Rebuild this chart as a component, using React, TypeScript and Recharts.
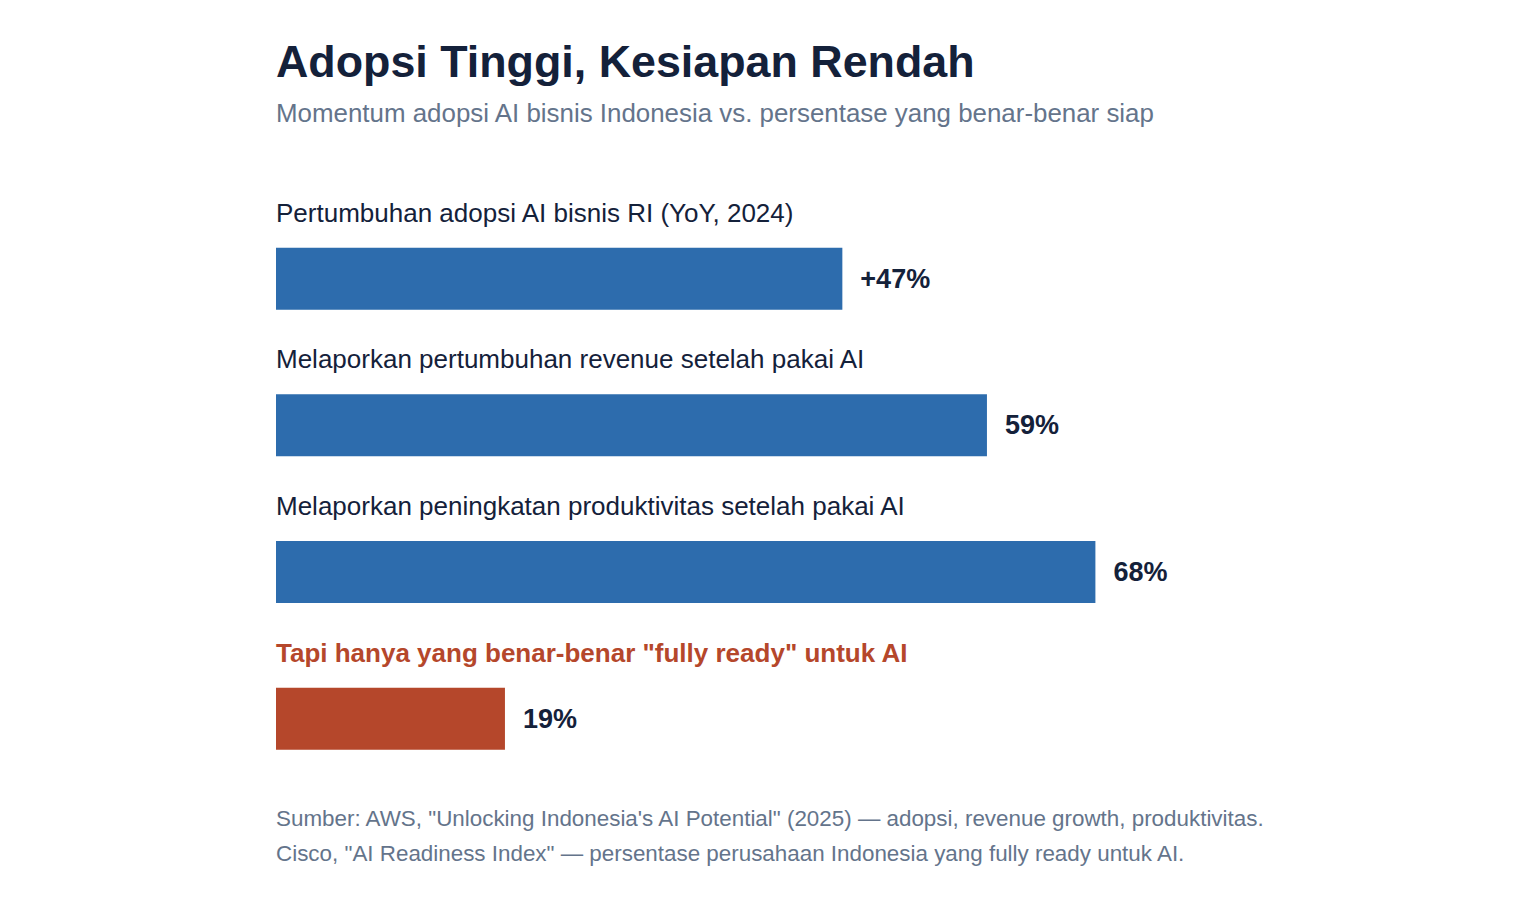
import React from 'react';
import { BarChart, Bar, XAxis, YAxis, Cell, LabelList } from 'recharts';

const categories = [
  'Pertumbuhan adopsi AI bisnis RI (YoY, 2024)',
  'Melaporkan pertumbuhan revenue setelah pakai AI',
  'Melaporkan peningkatan produktivitas setelah pakai AI',
  'Tapi hanya yang benar-benar "fully ready" untuk AI',
];
const values = [47, 59, 68, 19];
const valueLabels = ['+47%', '59%', '68%', '19%'];
const highlight = [false, false, false, true];

const BLUE = '#2d6cad';
const RED = '#b5472b';
const INK = '#14213a';
const MUTED = '#64748b';
const FONT = '"Liberation Sans", Arial, Helvetica, sans-serif';

const data = categories.map((name, i) => ({
  name,
  value: values[i],
  label: valueLabels[i],
  hot: highlight[i],
}));

function CategoryLabel(props: any) {
  const { x, y, index } = props;
  const hot = highlight[index];
  return (
    <text
      x={x}
      y={y - 26}
      fill={hot ? RED : INK}
      fontSize={26}
      fontWeight={hot ? 700 : 400}
      fontFamily={FONT}
    >
      {categories[index]}
    </text>
  );
}

function ValueLabel(props: any) {
  const { x, y, width, height, index } = props;
  return (
    <text
      x={x + width + 18}
      y={y + height / 2}
      dominantBaseline="central"
      fill={INK}
      fontSize={27}
      fontWeight={700}
      fontFamily={FONT}
    >
      {valueLabels[index]}
    </text>
  );
}

export default function App() {
  return (
    <div style={{ position: 'relative', width: 1524, height: 888, background: '#fff', fontFamily: FONT }}>
      <div
        style={{
          position: 'absolute', left: 268, top: 30.5, fontSize: 44.8, lineHeight: 1,
          fontWeight: 700, color: INK, whiteSpace: 'nowrap',
        }}
      >
        Adopsi Tinggi, Kesiapan Rendah
      </div>
      <div
        style={{
          position: 'absolute', left: 268, top: 92.5, fontSize: 25.9, lineHeight: 1,
          color: MUTED, whiteSpace: 'nowrap',
        }}
      >
        Momentum adopsi AI bisnis Indonesia vs. persentase yang benar-benar siap
      </div>

      <div style={{ position: 'absolute', left: 0, top: 0 }}>
        <BarChart
          width={1524}
          height={888}
          data={data}
          layout="vertical"
          margin={{ top: 197.7, right: 51, bottom: 103.7, left: 268 }}
        >
          <XAxis type="number" domain={[0, 100]} hide />
          <YAxis type="category" dataKey="name" hide />
          <Bar dataKey="value" barSize={62} isAnimationActive={false}>
            {data.map((d, i) => (
              <Cell key={i} fill={d.hot ? RED : BLUE} />
            ))}
            <LabelList dataKey="name" content={<CategoryLabel />} />
            <LabelList dataKey="label" content={<ValueLabel />} />
          </Bar>
        </BarChart>
      </div>

      <div
        style={{
          position: 'absolute', left: 268, top: 792.5, fontSize: 22.4, lineHeight: '35px',
          color: MUTED, whiteSpace: 'nowrap',
        }}
      >
        <div>Sumber: AWS, "Unlocking Indonesia's AI Potential" (2025) — adopsi, revenue growth, produktivitas.</div>
        <div>Cisco, "AI Readiness Index" — persentase perusahaan Indonesia yang fully ready untuk AI.</div>
      </div>
    </div>
  );
}
